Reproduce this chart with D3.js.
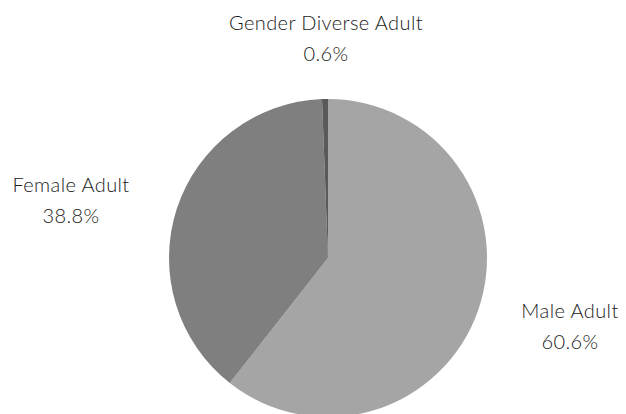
<!DOCTYPE html>
<html><head><meta charset="utf-8">
<script src="https://cdn.jsdelivr.net/npm/d3@7"></script>
<style>html,body{margin:0;padding:0;background:#fff;}</style>
</head><body>
<script>
const categories = ["Male Adult", "Female Adult", "Gender Diverse Adult"];
const values = [60.6, 38.8, 0.6];
const labels = ["60.6%", "38.8%", "0.6%"];
const colors = ["#a5a5a5", "#7f7f7f", "#595959"];

const W = 626, H = 414;
const cx = 328, cy = 258, r = 159;
const svg = d3.select("body").append("svg").attr("width", W).attr("height", H);
const pie = d3.pie().sort(null).value(d => d)(values);
const arc = d3.arc().innerRadius(0).outerRadius(r);
const g = svg.append("g").attr("transform", `translate(${cx},${cy})`);
g.selectAll("path").data(pie).enter().append("path")
  .attr("d", arc).attr("fill", (d, i) => colors[i]);

const labelPos = [[570, 310], [71, 184], [326, 22]];
const font = "Lato, 'Open Sans', sans-serif";
categories.forEach((c, i) => {
  const [x, y] = labelPos[i];
  [c, labels[i]].forEach((t, k) => {
    svg.append("text").attr("x", x).attr("y", y + 31 * k).attr("text-anchor", "middle")
      .attr("dominant-baseline", "central").attr("font-family", font)
      .attr("font-size", 20).attr("font-weight", 300).attr("letter-spacing", "0.4px")
      .attr("fill", "#1a1a1a").text(t);
  });
});
</script>
</body></html>
